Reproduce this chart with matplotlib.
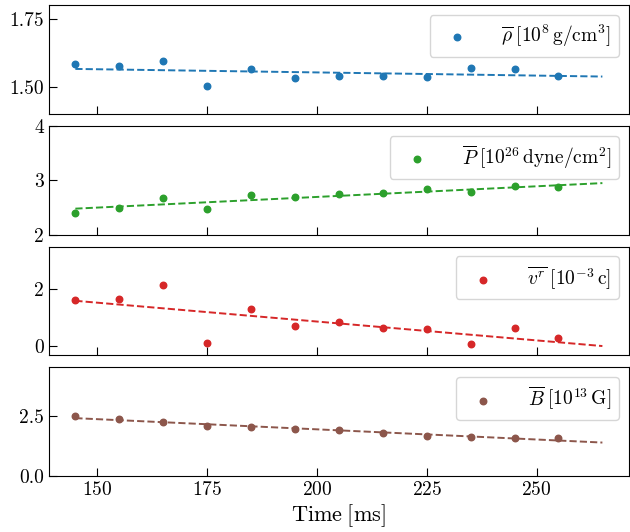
import matplotlib
matplotlib.use("Agg")
import matplotlib.pyplot as plt

plt.rcParams["font.family"] = "serif"
plt.rcParams["font.serif"] = ["cmr10", "DejaVu Serif"]
plt.rcParams["mathtext.fontset"] = "cm"
plt.rcParams["axes.formatter.use_mathtext"] = True

# ---- data ----
time = [145, 155, 165, 175, 185, 195, 205, 215, 225, 235, 245, 255]
fit_t = [145, 265]

rho = [1.585, 1.576, 1.597, 1.502, 1.564, 1.533, 1.540, 1.540, 1.538, 1.570, 1.565, 1.539]
rho_fit = [1.566, 1.538]

pres = [2.40, 2.50, 2.67, 2.48, 2.73, 2.70, 2.75, 2.77, 2.84, 2.78, 2.89, 2.87]
pres_fit = [2.48, 2.95]

vr = [1.64, 1.68, 2.16, 0.12, 1.31, 0.71, 0.84, 0.63, 0.62, 0.08, 0.66, 0.28]
vr_fit = [1.60, 0.01]

bfield = [2.49, 2.35, 2.24, 2.09, 2.05, 1.95, 1.89, 1.79, 1.65, 1.63, 1.59, 1.56]
bfield_fit = [2.40, 1.39]

labels = [r"$\overline{\rho}\;[10^8\,\mathrm{g/cm^3}]$",
          r"$\overline{P}\;[10^{26}\,\mathrm{dyne/cm^2}]$",
          r"$\overline{v^r}\;[10^{-3}\,\mathrm{c}]$",
          r"$\overline{B}\;[10^{13}\,\mathrm{G}]$"]
colors = ["tab:blue", "tab:green", "tab:red", "tab:brown"]
ylims = [(1.40, 1.80), (2.0, 4.0), (-0.32, 3.5), (0.0, 4.5)]
yticks = [[1.50, 1.75], [2, 3, 4], [0, 2], [0.0, 2.5]]
yfmt = ["{:.2f}", "{:.0f}", "{:.0f}", "{:.1f}"]

series = [(rho, rho_fit), (pres, pres_fit), (vr, vr_fit), (bfield, bfield_fit)]

fig, axes = plt.subplots(4, 1, figsize=(6.3, 5.32), dpi=100, sharex=True)
fig.subplots_adjust(left=49 / 630, right=0.998, top=0.990, bottom=0.105, hspace=0.11)

for ax, (vals, fit), lab, c, yl, yt, fmt in zip(axes, series, labels, colors, ylims, yticks, yfmt):
    ax.scatter(time, vals, s=22, color=c, label=lab, zorder=3)
    ax.plot(fit_t, fit, "--", color=c, lw=1.4)
    ax.set_ylim(*yl)
    ax.set_yticks(yt, [fmt.format(v) for v in yt])
    ax.tick_params(direction="in", length=6, labelsize=14)
    ax.legend(loc="upper right", fontsize=14, handletextpad=1.3, borderpad=0.4)

axes[-1].set_xlim(139, 271)
axes[-1].set_xticks([150, 175, 200, 225, 250])
axes[-1].set_xlabel(r"$\mathrm{Time}\;[\mathrm{ms}]$", fontsize=16, labelpad=2)

fig.savefig("out.png", dpi=100)
